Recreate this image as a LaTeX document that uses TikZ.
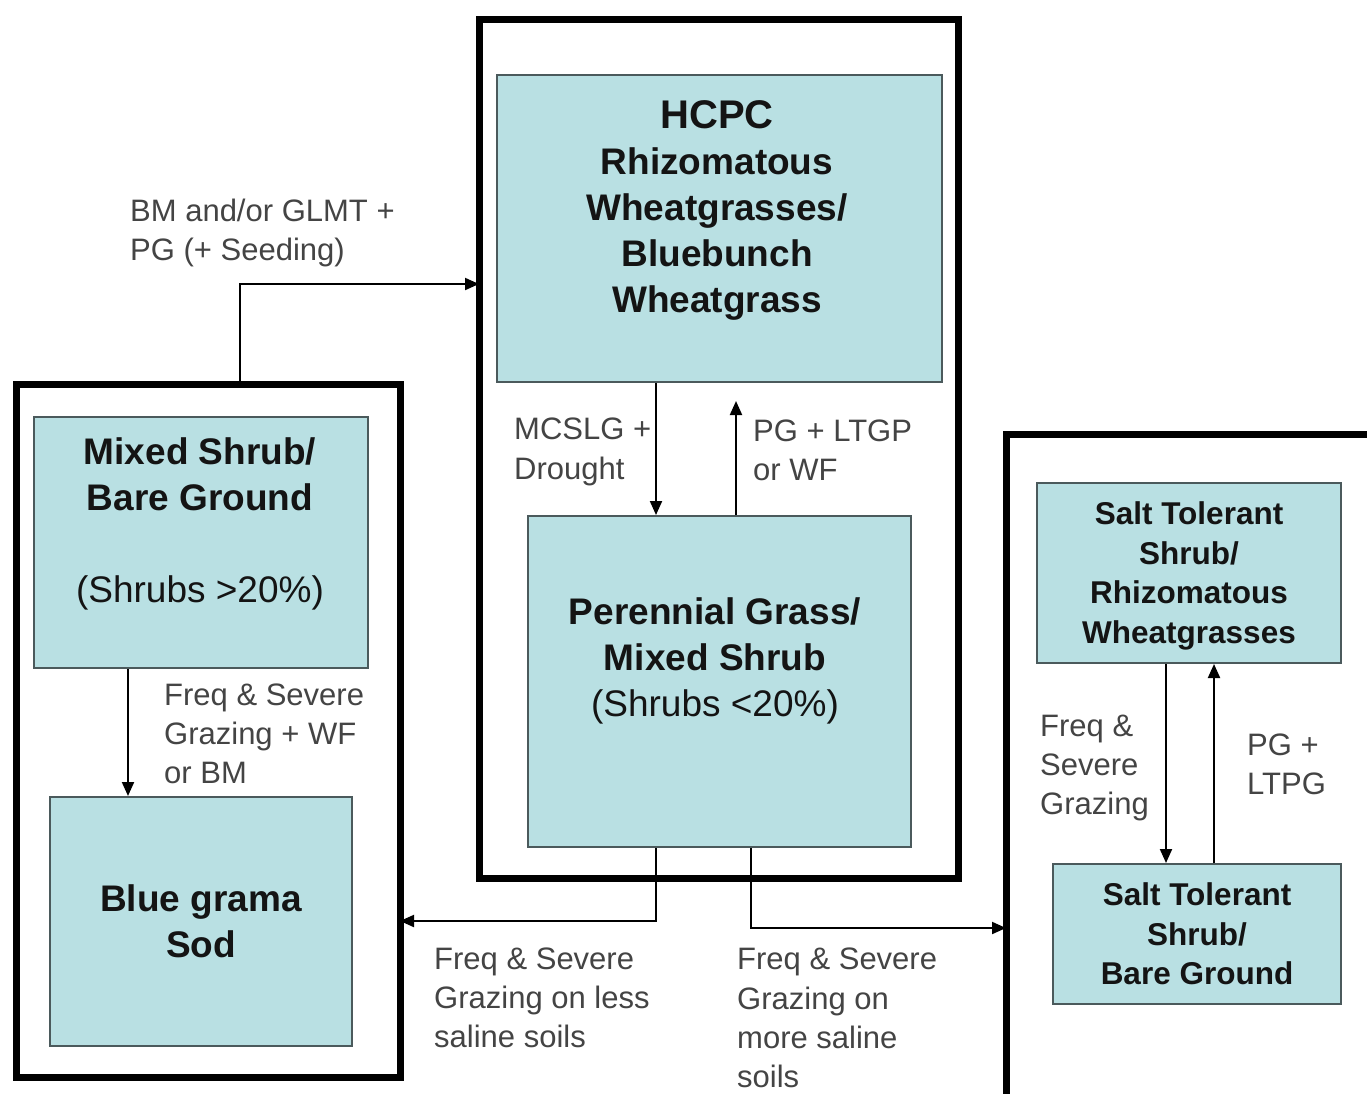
\documentclass[tikz,border=0pt]{standalone}
\usepackage{fontspec}
\setmainfont{Liberation Sans}
\usetikzlibrary{arrows.meta}
\definecolor{boxfill}{RGB}{185,224,227}
\definecolor{boxline}{RGB}{75,90,92}
\definecolor{labelgray}{RGB}{68,68,68}
\tikzset{
  statebox/.style={draw=boxline, line width=2pt, fill=boxfill, rectangle, inner sep=0pt},
  outerbox/.style={draw=black, line width=7pt},
  conn/.style={draw=black, line width=2pt, -{Triangle[length=14pt,width=12pt]}},
  boldtxt/.style={font=\bfseries\fontsize{37}{46}\selectfont, text=black!92, align=center, inner sep=0pt},
  smalltxt/.style={font=\bfseries\fontsize{31.5}{39.5}\selectfont, text=black!92, align=center, inner sep=0pt},
  lbl/.style={font=\fontsize{31}{39.3}\selectfont, text=labelgray, align=left, inner sep=0pt, anchor=west},
}
\begin{document}
\begin{tikzpicture}[x=1pt,y=-1pt]
\clip (0,0) rectangle (1367,1093);
\fill[white] (0,0) rectangle (1367,1093);
% outer thick boxes
\draw[outerbox] (479,19) rectangle (958,878);
\draw[outerbox] (16,384) rectangle (400,1077);
\draw[outerbox] (1006,434) rectangle (1420,1140);
% state boxes
\node[statebox, minimum width=445pt, minimum height=307pt] (hcpc) at (719.5,228.5) {};
\node[statebox, minimum width=383pt, minimum height=331pt] (pgms) at (719.5,681.5) {};
\node[statebox, minimum width=334pt, minimum height=251pt] (msbg) at (201,542.5) {};
\node[statebox, minimum width=302pt, minimum height=249pt] (bgs) at (201,921.5) {};
\node[statebox, minimum width=304pt, minimum height=180pt] (strw) at (1189,573) {};
\node[statebox, minimum width=288pt, minimum height=140pt] (stbg) at (1197,934) {};
% named reference points on outer boxes
\coordinate (leftouttop) at (240,381);
\coordinate (leftout) at (400,921);
\coordinate (rightout) at (1006,928);
\coordinate (centerin) at (479,284);
% box texts
\node[boldtxt] (thcpc) at (717,210) {{\fontsize{40}{46}\selectfont HCPC}\\Rhizomatous\\Wheatgrasses/\\Bluebunch\\Wheatgrass};
\node[boldtxt, anchor=north] (tmsbg) at (200,437) {Mixed Shrub/\\Bare Ground\\[46pt]\mdseries (Shrubs >20\%)};
\node[boldtxt] (tpgms) at (715,661) {Perennial Grass/\\Mixed Shrub\\\mdseries (Shrubs <20\%)};
\node[boldtxt] (tbgs) at (201,921) {Blue grama\\Sod};
\node[smalltxt] (tstrw) at (1189,576) {Salt Tolerant\\Shrub/\\Rhizomatous\\Wheatgrasses};
\node[smalltxt] (tstbg) at (1197,934) {Salt Tolerant\\Shrub/\\Bare Ground};
% connectors
\draw[conn] (leftouttop) -- (240,284) -- (centerin);
\draw[conn] (hcpc.south -| 656,0) -- (pgms.north -| 656,0);
\draw[conn, shorten >=18pt] (pgms.north -| 736,0) -- (hcpc.south -| 736,0);
\draw[conn] (msbg.south -| 128,0) -- (bgs.north -| 128,0);
\draw[conn] (pgms.south -| 656,0) -- (656,921) -- (leftout);
\draw[conn] (pgms.south -| 751,0) -- (751,928) -- (rightout);
\draw[conn] (strw.south -| 1166,0) -- (stbg.north -| 1166,0);
\draw[conn] (stbg.north -| 1214,0) -- (strw.south -| 1214,0);
% labels
\node[lbl] (l1) at (130,233) {BM and/or GLMT +\\PG (+ Seeding)};
\node[lbl] (l2) at (514,452) {MCSLG +\\Drought};
\node[lbl] (l3) at (753,450) {PG + LTGP\\or WF};
\node[lbl] (l4) at (164,734) {Freq \& Severe\\Grazing + WF\\or BM};
\node[lbl] (l5) at (434,998) {Freq \& Severe\\Grazing on less\\saline soils};
\node[lbl] (l6) at (737,1018) {Freq \& Severe\\Grazing on\\more saline\\soils};
\node[lbl] (l7) at (1040,768) {Freq \&\\Severe\\Grazing};
\node[lbl] (l8) at (1247,764) {PG +\\LTPG};
\end{tikzpicture}
\end{document}
